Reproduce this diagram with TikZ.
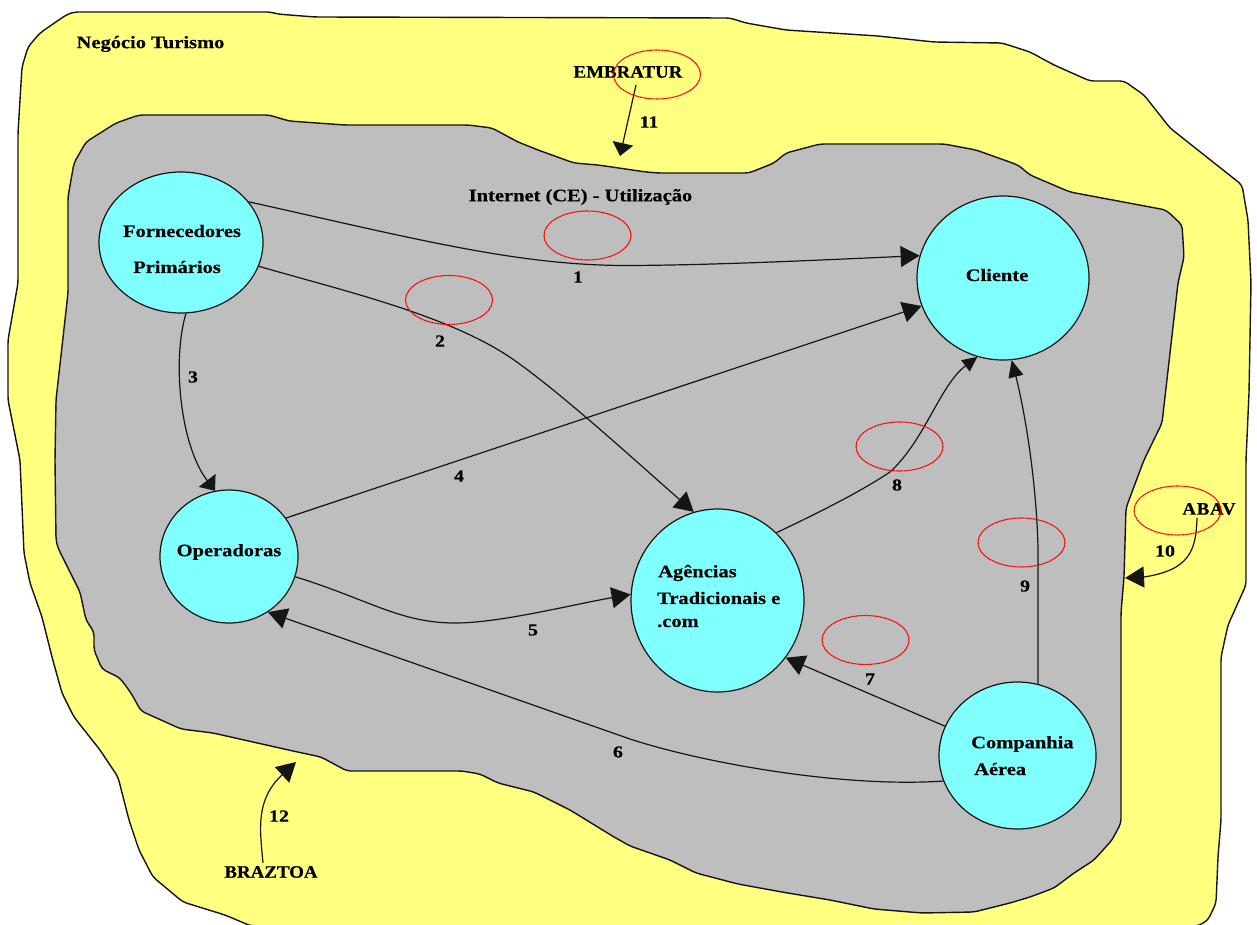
\documentclass[tikz,border=0pt]{standalone}
\usepackage{fontspec}
\setmainfont{Liberation Serif}[BoldFeatures={FakeStretch=1.17,FakeBold=0.4}]
\newfontfamily\capsfont{Liberation Serif}[BoldFeatures={FakeStretch=1.08,FakeBold=0.4}]
\usetikzlibrary{arrows.meta,shapes.geometric}
\definecolor{outerfill}{HTML}{FFFF80}
\definecolor{innerfill}{HTML}{BEBEBE}
\definecolor{bubblefill}{HTML}{80FFFF}
\definecolor{inkline}{HTML}{151515}
\tikzset{
  x=1pt,y=-1pt,
  region/.style={draw=inkline,line width=1.4pt,rounded corners=4pt,line join=round},
  bubble/.style={ellipse,draw=inkline,line width=1.2pt,fill=bubblefill,inner sep=0pt},
  mark ring/.style={ellipse,draw=red,line width=1.1pt,dash pattern=on 2.2pt off 0.5pt,minimum width=87pt,minimum height=49pt,inner sep=0pt},
  lbl/.style={font=\fontsize{17.5}{19}\selectfont\bfseries,inner sep=0pt,text=black},
  caplbl/.style={font=\fontsize{17.5}{19}\selectfont\capsfont\bfseries,inner sep=0pt,text=black},
  num/.style={font=\fontsize{17}{19}\selectfont\bfseries,inner sep=0pt,text=black},
  conn/.style={draw=inkline,line width=1.2pt,-{Triangle[length=19pt,width=21pt]}},
  connwide/.style={draw=inkline,line width=1.2pt,-{Triangle[length=13pt,width=21pt]}},
  conns/.style={draw=inkline,line width=1.2pt,-{Triangle[length=15pt,width=14pt]}},
  connt/.style={draw=inkline,line width=1.2pt,-{Triangle[length=17pt,width=15pt]}},
}
\begin{document}
\begin{tikzpicture}
\useasboundingbox (0,0) rectangle (1257,925);
\fill[white] (0,0) rectangle (1257,925);
% outer region
\draw[region,fill=outerfill] (74,12) -- (271,12) -- (277,14) -- (315,17) -- (730,18) -- (746,23) -- (786,30) -- (878,36) -- (934,42) -- (1002,43) -- (1030,52) -- (1054,65) -- (1090,81) -- (1124,81) -- (1144,95) -- (1170,128) -- (1242,185) -- (1248,220) -- (1251,283) -- (1249,393) -- (1246,460) -- (1246,585) -- (1228,625) -- (1221,657) -- (1221,820) -- (1218,857) -- (1216,903) -- (1208,920) -- (1198,926) -- (251,926) -- (225,915) -- (183,902) -- (153,877) -- (139,850) -- (129,820) -- (118,777) -- (100,750) -- (74,717) -- (62,693) -- (52,657) -- (42,617) -- (30,583) -- (24,553) -- (20,460) -- (8,400) -- (8,340) -- (18,283) -- (18,133) -- (22,67) -- (28,47) -- (40,33) -- (66,15) -- cycle;
% inner region
\draw[region,fill=innerfill] (139,115) -- (269,115) -- (289,121) -- (345,125) -- (468,125) -- (492,128) -- (518,142) -- (538,150) -- (574,163) -- (598,165) -- (646,172) -- (658,173) -- (749,173) -- (774,163) -- (786,153) -- (820,144) -- (944,144) -- (976,150) -- (1018,165) -- (1030,175) -- (1070,192) -- (1166,210) -- (1182,225) -- (1184,257) -- (1178,283) -- (1170,353) -- (1162,423) -- (1144,460) -- (1126,508) -- (1124,577) -- (1121,613) -- (1121,823) -- (1112,840) -- (1094,860) -- (1074,873) -- (1054,888) -- (1030,897) -- (1010,903) -- (974,912) -- (922,913) -- (874,909) -- (830,900) -- (782,892) -- (738,884) -- (696,873) -- (670,860) -- (630,846) -- (614,837) -- (570,810) -- (534,792) -- (498,783) -- (480,774) -- (462,771) -- (347,771) -- (321,757) -- (293,751) -- (213,733) -- (181,729) -- (141,711) -- (131,693) -- (120,678) -- (102,669) -- (94,650) -- (94,632) -- (86,620) -- (80,592) -- (58,548) -- (56,540) -- (55,460) -- (56,400) -- (68,293) -- (68,197) -- (74,163) -- (86,142) -- (116,123) -- cycle;
% bubbles
\node[bubble,minimum width=164pt,minimum height=141pt] (forn) at (181,242.5) {};
\node[bubble,minimum width=172pt,minimum height=164pt] (cli) at (1003,278) {};
\node[bubble,minimum width=138pt,minimum height=133pt] (oper) at (229,556.5) {};
\node[bubble,minimum width=173pt,minimum height=183pt] (agen) at (717.5,600.5) {};
\node[bubble,minimum width=157pt,minimum height=147pt] (comp) at (1017.5,755.5) {};
% bubble texts
\node[lbl] (tforn) at (182,231) {Fornecedores};
\node[lbl] (tprim) at (177,267) {Primários};
\node[lbl] (tcli) at (997,275) {Cliente};
\node[lbl] (toper) at (229,552) {Operadoras};
\node[lbl,anchor=west] (tagen) at (658,573) {Agências};
\node[lbl,anchor=west] (ttrad) at (657,598) {Tradicionais e};
\node[lbl,anchor=west] (tcom) at (657,623) {.com};
\node[lbl,anchor=west] (tcia) at (971,744) {Companhia};
\node[lbl,anchor=west] (taer) at (974,769) {Aérea};
% free texts
\node[lbl] (tneg) at (150.5,44) {Negócio Turismo};
\node[lbl] (tnet) at (580.5,197) {Internet (CE) - Utilização};
\node[caplbl] (embr) at (628,72) {EMBRATUR};
\node[caplbl] (abav) at (1209,509) {\addfontfeature{LetterSpace=4}ABAV};
\node[caplbl] (braz) at (271,872) {BRAZTOA};
% free ends
\coordinate (c10) at (1125,578);
\coordinate (c11) at (620,156);
\coordinate (c12) at (296,762);
% connectors
\draw[conn] (forn.31) .. controls (420,240) and (520,266) .. (630,265.5) .. controls (720,265) and (820,260) .. (cli.165.6);
\draw[conn] (forn.-17.5) .. controls (340,290) and (450,315) .. (514,360) .. controls (565,396) and (640,465) .. (agen.105.4);
\draw[connwide] (forn.-86) .. controls (172,360) and (180,445) .. (oper.102);
\draw[conn] (oper.34.5) -- (cli.199.3);
\draw[conn] (oper.-17.5) .. controls (370,600) and (400,623) .. (455,623) .. controls (500,623) and (570,605) .. (agen.176);
\draw[conn] (comp.199.5) .. controls (840,788) and (700,762) .. (630,739) -- (oper.-55.6);
\draw[conn] (comp.158) -- (agen.-40);
\draw[conns] (agen.49) .. controls (820,512) and (860,492) .. (890,472) .. controls (925,440) and (940,385) .. (cli.252);
\draw[connt] (comp.74) -- (1038,548) .. controls (1036,470) and (1022,400) .. (cli.-84);
\draw[conn] ([xshift=-12pt,yshift=-3pt]abav.south) .. controls (1196,550) and (1190,570) .. (1144,577) -- (c10);
\draw[connwide] ([xshift=8pt,yshift=-7pt]embr.south) -- (c11);
\draw[conn] ([xshift=-8pt,yshift=3pt]braz.north) .. controls (260,830) and (255,800) .. (c12);
% marks
\node[mark ring] (m0) at (657,74.5) {};
\node[mark ring] (m1) at (587.5,235.5) {};
\node[mark ring] (m2) at (449,300) {};
\node[mark ring] (m8) at (899.5,446.5) {};
\node[mark ring] (m9) at (1021.5,542.5) {};
\node[mark ring] (m7) at (865.5,640) {};
\node[mark ring] (m10) at (1177.5,510.5) {};
% numbers
\node[num] (n1) at (578,277) {1};
\node[num] (n2) at (440,341) {2};
\node[num] (n3) at (193,377) {3};
\node[num] (n4) at (459,476) {4};
\node[num] (n5) at (533,630) {5};
\node[num] (n6) at (618,752) {6};
\node[num] (n7) at (870,679) {7};
\node[num] (n8) at (897,485) {8};
\node[num] (n9) at (1025,586) {9};
\node[num] (n10) at (1165,551) {10};
\node[num] (n11) at (649,122) {11};
\node[num] (n12) at (279,816) {12};
\end{tikzpicture}
\end{document}
